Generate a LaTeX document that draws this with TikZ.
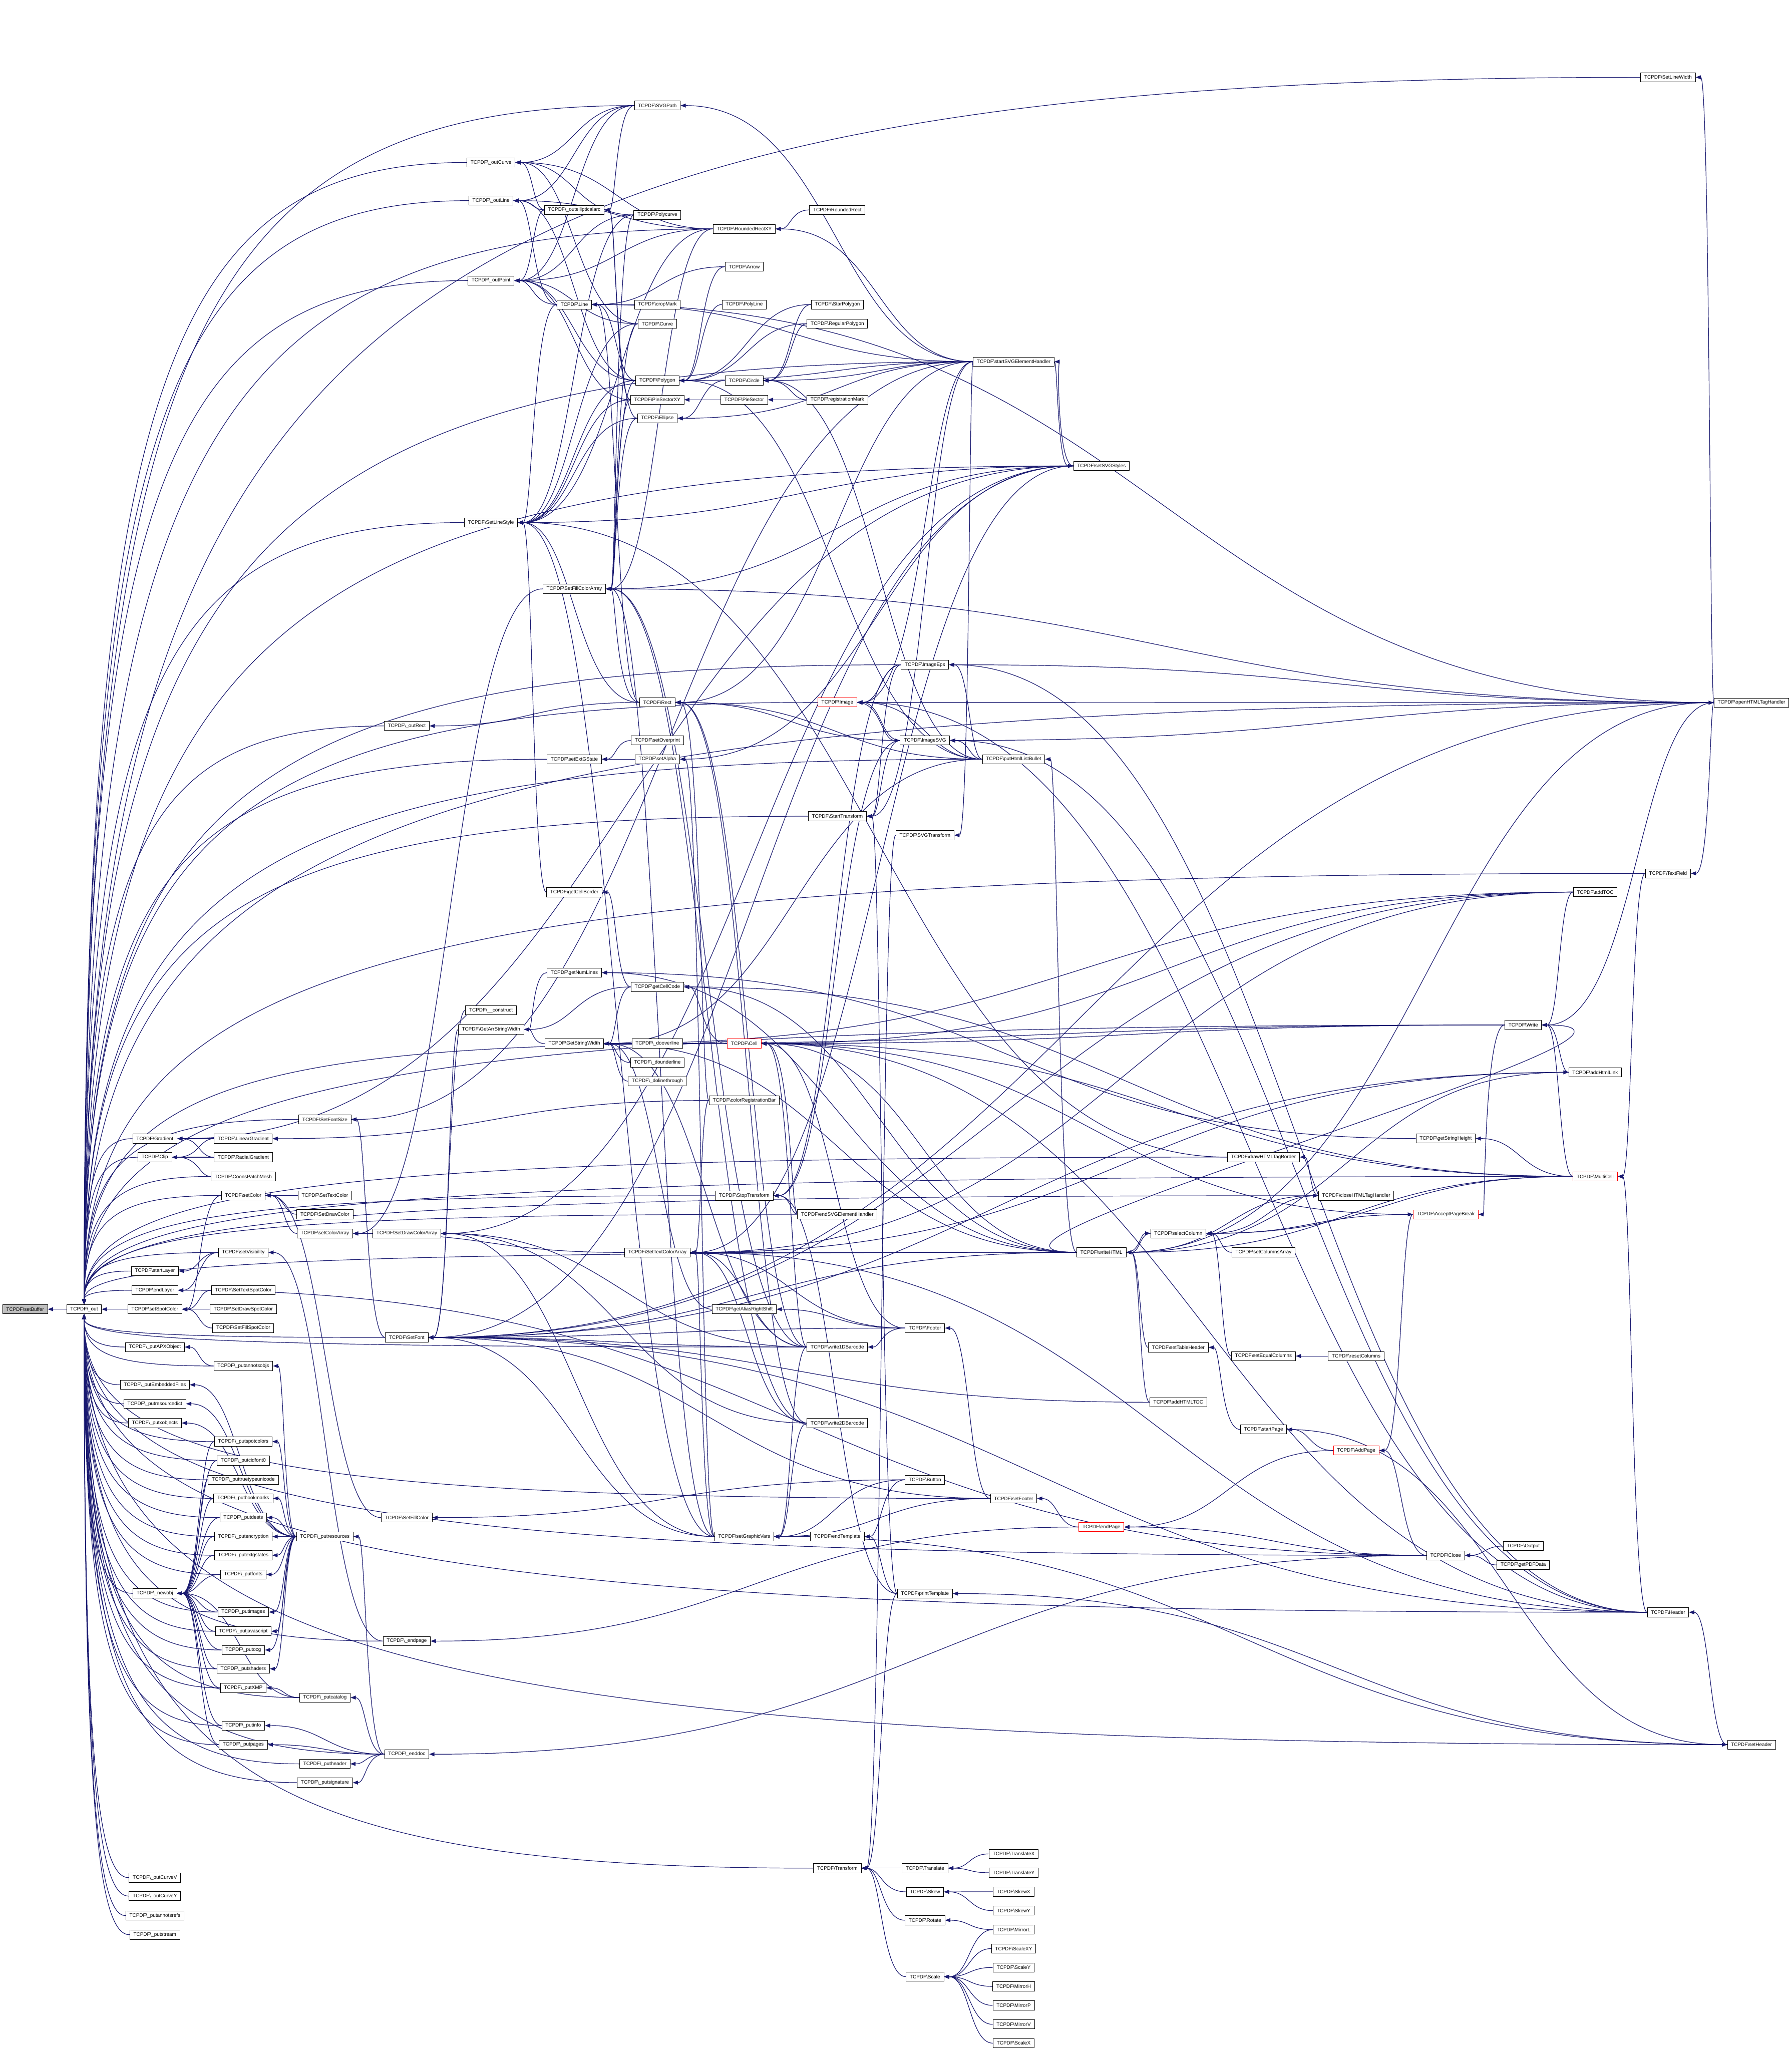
\documentclass[tikz,border=0pt]{standalone}
\usepackage{fontspec}
\setmainfont{Liberation Sans}
\usetikzlibrary{arrows.meta, calc, backgrounds}

\definecolor{edgeblue}{HTML}{191970}
\definecolor{rootgray}{HTML}{BFBFBF}
\newcommand\tcpdf{TCPDF\textbackslash{}}

\tikzset{
  fn/.style={draw=black, fill=white, line width=1pt, inner xsep=2.8mm, inner ysep=0pt,
    minimum height=7mm, font=\fontsize{10.8pt}{13pt}\selectfont},
  redfn/.style={fn, draw=red},
  rootfn/.style={fn, fill=rootgray},
  wire/.style={draw=edgeblue, line width=1.3pt, -{Triangle[length=4mm,width=3mm]}},
  call/.style={wire, to path={let \p1=(\tikztostart), \p2=(\tikztotarget),
    \n1={max(abs(\x1-\x2)/2,22pt)} in
    .. controls +(-\n1,0pt) and +(\n1,0pt) .. (\tikztotarget)}},
  backcall/.style={wire, to path={let \p1=(\tikztostart), \p2=(\tikztotarget),
    \n1={max(abs(\x1-\x2)/2,22pt)} in
    .. controls +(\n1,0pt) and +(-\n1,0pt) .. (\tikztotarget)}},
  fanup/.style={wire, to path={let \p1=(\tikztostart), \p2=(\tikztotarget),
    \n1={max(abs(\x1-\x2)*0.8,20pt)}, \n2={max(abs(\y1-\y2)*0.8,20pt)} in
    .. controls +(-\n1,0pt) and +(0pt,\n2) .. (\tikztotarget)}},
  fandown/.style={wire, to path={let \p1=(\tikztostart), \p2=(\tikztotarget),
    \n1={max(abs(\x1-\x2)*0.8,20pt)}, \n2={max(abs(\y1-\y2)*0.8,20pt)} in
    .. controls +(-\n1,0pt) and +(0pt,-\n2) .. (\tikztotarget)}},
}

\begin{document}
\begin{tikzpicture}[x=1mm, y=-1mm]
\useasboundingbox (0,0) rectangle (1370,1568);

% root and the output function
\node[rootfn] (setBuffer) at (19.2,1000.9) {\tcpdf setBuffer};
\node[fn] (out) at (64.3,1000.9) {\tcpdf\_out};

% rank 2
\foreach \nm/\yy/\lbl in {Gradient/870.5/Gradient, Clip/884.7/Clip, startLayer/971.7/startLayer,
    endLayer/986.4/endLayer, setSpotColor/1000.9/setSpotColor, putAPXObject/1029.8/\_putAPXObject,
    putEmbeddedFiles/1058.7/\_putEmbeddedFiles, putresourcedict/1073.2/\_putresourcedict,
    putxobjects/1087.9/\_putxobjects, newobj/1218.1/\_newobj, outCurveV/1435.5/\_outCurveV,
    outCurveY/1449.6/\_outCurveY, putannotsrefs/1464.5/\_putannotsrefs, putstream/1479.1/\_putstream}
  \node[fn] (\nm) at (118.4,\yy) {\tcpdf\lbl};

% rank 3
\foreach \nm/\yy/\lbl in {LinearGradient/870.5/LinearGradient, RadialGradient/884.7/RadialGradient,
    CoonsPatchMesh/899.4/CoonsPatchMesh, setColor/913.9/setColor, setVisibility/957.5/setVisibility,
    SetTextSpotColor/986.4/SetTextSpotColor, SetDrawSpotColor/1000.9/SetDrawSpotColor,
    SetFillSpotColor/1015.3/SetFillSpotColor, putannotsobjs/1044.3/\_putannotsobjs,
    putspotcolors/1102.1/\_putspotcolors, putcidfont/1116.6/\_putcidfont0,
    puttruetypeunicode/1131.3/\_puttruetypeunicode, putbookmarks/1145.5/\_putbookmarks,
    putdests/1160.2/\_putdests, putencryption/1174.7/\_putencryption, putextgstates/1189.0/\_putextgstates,
    putfonts/1203.7/\_putfonts, putimages/1232.4/\_putimages, putjavascript/1247.1/\_putjavascript,
    putocg/1261.4/\_putocg, putshaders/1275.8/\_putshaders, putXMP/1290.4/\_putXMP,
    putinfo/1319.2/\_putinfo, putpages/1333.8/\_putpages}
  \node[fn] (\nm) at (186.0,\yy) {\tcpdf\lbl};

% rank 4
\foreach \nm/\yy/\lbl in {SetFontSize/855.8/SetFontSize, SetTextColor/913.9/SetTextColor,
    SetDrawColor/928.3/SetDrawColor, setColorArray/943.0/setColorArray, putresources/1174.7/\_putresources,
    putcatalog/1297.8/\_putcatalog, putheader/1348.5/\_putheader, putsignature/1362.8/\_putsignature}
  \node[fn] (\nm) at (248.4,\yy) {\tcpdf\lbl};

% rank 5
\foreach \nm/\yy/\lbl in {outRect/555.0/\_outRect, SetDrawColorArray/943.0/SetDrawColorArray,
    SetFont/1022.5/SetFont, SetFillColor/1160.2/SetFillColor, endpageu/1254.6/\_endpage,
    enddoc/1341.1/\_enddoc}
  \node[fn] (\nm) at (311.0,\yy) {\tcpdf\lbl};

% rank 6
\foreach \nm/\yy/\lbl in {outCurve/124.2/\_outCurve, outLine/153.4/\_outLine, outPoint/214.5/\_outPoint,
    SetLineStyle/399.5/SetLineStyle, construct/772.4/\_\_construct, GetArrStringWidth/787.0/GetArrStringWidth}
  \node[fn] (\nm) at (375.4,\yy) {\tcpdf\lbl};

% rank 7
\foreach \nm/\yy/\lbl in {outellipticalarc/160.5/\_outellipticalarc, Line/232.8/Line,
    SetFillColorArray/450.2/SetFillColorArray, setExtGState/580.4/setExtGState,
    getCellBorder/682.1/getCellBorder, getNumLines/743.6/getNumLines, GetStringWidth/797.8/GetStringWidth}
  \node[fn] (\nm) at (439.1,\yy) {\tcpdf\lbl};

% rank 8
\foreach \nm/\yy/\lbl in {SVGPath/80.7/SVGPath, Polycurve/164.3/Polycurve, cropMark/232.8/cropMark,
    Curve/247.5/Curve, Polygon/290.9/Polygon, PieSectorXY/305.6/PieSectorXY, Ellipse/319.8/Ellipse,
    Rect/537.0/Rect, setOverprint/566.1/setOverprint, setAlpha/580.4/setAlpha,
    getCellCode/754.5/getCellCode, dooverline/797.8/\_dooverline, dounderline/812.3/\_dounderline,
    dolinethrough/826.6/\_dolinethrough, SetTextColorArray/957.5/SetTextColorArray}
  \node[fn] (\nm) at (502.6,\yy) {\tcpdf\lbl};

% rank 9
\foreach \nm/\yy/\lbl in {RoundedRectXY/175.0/RoundedRectXY, Arrow/203.9/Arrow, PolyLine/232.8/PolyLine,
    Circle/290.9/Circle, PieSector/305.6/PieSector, colorRegistrationBar/841.3/colorRegistrationBar,
    StopTransform/914.1/StopTransform, getAliasRightShift/1000.9/getAliasRightShift,
    setGraphicVars/1174.7/setGraphicVars}
  \node[fn] (\nm) at (569.0,\yy) {\tcpdf\lbl};
\node[redfn] (Cell) at (569.0,797.8) {\tcpdf Cell};

% rank 10
\foreach \nm/\yy/\lbl in {RoundedRect/160.5/RoundedRect, StarPolygon/232.8/StarPolygon,
    RegularPolygon/247.5/RegularPolygon, registrationMark/305.6/registrationMark,
    StartTransform/624.0/StartTransform, endSVGElementHandler/928.3/endSVGElementHandler,
    write1DBarcode/1029.8/write1DBarcode, write2DBarcode/1087.9/write2DBarcode,
    endTemplate/1174.7/endTemplate, Transform/1428.2/Transform}
  \node[fn] (\nm) at (640.2,\yy) {\tcpdf\lbl};
\node[redfn] (Image) at (640.2,537.0) {\tcpdf Image};

% rank 11
\foreach \nm/\yy/\lbl in {ImageEps/508.2/ImageEps, ImageSVG/566.1/ImageSVG, SVGTransform/638.5/SVGTransform,
    Footer/1015.3/Footer, Button/1131.3/Button, printTemplate/1218.3/printTemplate,
    Translate/1428.2/Translate, Skew/1446.3/Skew, Rotate/1468.0/Rotate, Scale/1511.2/Scale}
  \node[fn] (\nm) at (707.2,\yy) {\tcpdf\lbl};

% rank 12
\foreach \nm/\yy/\lbl in {startSVGElementHandler/276.5/startSVGElementHandler,
    putHtmlListBullet/580.4/putHtmlListBullet, setFooter/1145.6/setFooter,
    TranslateX/1417.3/TranslateX, TranslateY/1431.7/TranslateY, SkewX/1446.2/SkewX, SkewY/1460.7/SkewY,
    MirrorL/1475.2/MirrorL, ScaleXY/1489.7/ScaleXY, ScaleY/1504.1/ScaleY, MirrorH/1518.6/MirrorH,
    MirrorP/1533.1/MirrorP, MirrorV/1547.6/MirrorV, ScaleX/1562.0/ScaleX}
  \node[fn] (\nm) at (775.0,\yy) {\tcpdf\lbl};

% ranks 13 to 20
\node[fn] (setSVGStyles) at (842.1,356.2) {\tcpdf setSVGStyles};
\node[fn] (writeHTML) at (842.1,957.4) {\tcpdf writeHTML};
\node[redfn] (endPage) at (842.1,1167.4) {\tcpdf endPage};
\node[fn] (selectColumn) at (900.9,942.9) {\tcpdf selectColumn};
\node[fn] (setTableHeader) at (900.9,1030.1) {\tcpdf setTableHeader};
\node[fn] (addHTMLTOC) at (900.9,1072.0) {\tcpdf addHTMLTOC};
\node[fn] (drawHTMLTagBorder) at (966.0,884.6) {\tcpdf drawHTMLTagBorder};
\node[fn] (setColumnsArray) at (966.0,957.4) {\tcpdf setColumnsArray};
\node[fn] (setEqualColumns) at (966.0,1036.7) {\tcpdf setEqualColumns};
\node[fn] (startPage) at (966.0,1092.8) {\tcpdf startPage};
\node[fn] (closeHTMLTagHandler) at (1036.9,914.1) {\tcpdf closeHTMLTagHandler};
\node[fn] (resetColumns) at (1036.9,1036.7) {\tcpdf resetColumns};
\node[redfn] (AddPage) at (1036.9,1108.9) {\tcpdf AddPage};
\node[fn] (getStringHeight) at (1105.3,870.4) {\tcpdf getStringHeight};
\node[redfn] (AcceptPageBreak) at (1105.3,928.4) {\tcpdf AcceptPageBreak};
\node[fn] (Close) at (1105.3,1189.1) {\tcpdf Close};
\node[fn] (Write) at (1164.6,783.6) {\tcpdf Write};
\node[fn] (Output) at (1164.6,1182.0) {\tcpdf Output};
\node[fn] (getPDFData) at (1164.6,1196.4) {\tcpdf getPDFData};
\node[fn] (addTOC) at (1219.6,682.0) {\tcpdf addTOC};
\node[fn] (addHtmlLink) at (1219.6,819.8) {\tcpdf addHtmlLink};
\node[redfn] (MultiCell) at (1219.6,899.4) {\tcpdf MultiCell};
\node[fn] (SetLineWidth) at (1275.3,59.1) {\tcpdf SetLineWidth};
\node[fn] (TextField) at (1275.3,667.7) {\tcpdf TextField};
\node[fn] (Header) at (1275.3,1232.6) {\tcpdf Header};
\node[fn] (openHTMLTagHandler) at (1339.1,537.2) {\tcpdf openHTMLTagHandler};
\node[fn] (setHeader) at (1339.1,1333.8) {\tcpdf setHeader};

\begin{pgfonlayer}{background}
\fill[white] (0,0) rectangle (1370,1568);

% calls into _out
\draw[call] (out) to (setBuffer);
\draw[call] (setSpotColor) to (out);
\foreach \s in {SetLineWidth, outCurve, outLine, outPoint, SVGPath, SetLineStyle, outRect, setExtGState,
    StartTransform, StopTransform, SetFontSize, Gradient, Clip, CoonsPatchMesh, setColor, setVisibility,
    startLayer, endLayer, Image, ImageEps, openHTMLTagHandler, startSVGElementHandler,
    endSVGElementHandler, putHtmlListBullet, Cell, writeHTML, closeHTMLTagHandler, Write, MultiCell,
    RoundedRectXY, drawHTMLTagBorder, setSVGStyles, TextField}
  \draw[fanup] (\s) to (out);
\foreach \s in {putAPXObject, putannotsobjs, putEmbeddedFiles, putresourcedict, putxobjects, putspotcolors,
    putcidfont, puttruetypeunicode, putbookmarks, putdests, putencryption, putextgstates, putfonts, newobj,
    putimages, putjavascript, putocg, putshaders, putXMP, putcatalog, putinfo, putpages, putheader,
    putsignature, enddoc, outCurveV, outCurveY, putannotsrefs, putstream, SetFont, endpageu, Transform,
    setHeader, Close, setFooter, write1DBarcode, Header}
  \draw[fandown] (\s) to (out);

% gradients, colours, layers, fonts
\foreach \s/\t in {LinearGradient/Gradient, RadialGradient/Gradient, LinearGradient/Clip, RadialGradient/Clip,
    CoonsPatchMesh/Clip, setSVGStyles/Gradient, colorRegistrationBar/LinearGradient,
    SetTextColor/setColor, SetDrawColor/setColor, SetFillColor/setColor, setColorArray/setColor,
    setColor/setSpotColor, SetTextSpotColor/setSpotColor, SetDrawSpotColor/setSpotColor,
    SetFillSpotColor/setSpotColor, SetDrawColorArray/setColorArray, SetFillColorArray/setColorArray,
    SetTextColorArray/setColorArray, setVisibility/startLayer, setVisibility/endLayer,
    endpageu/setVisibility, Close/endLayer, SetFont/SetFontSize, startSVGElementHandler/SetFontSize,
    GetArrStringWidth/SetFont, construct/SetFont}
  \draw[call] (\s) to (\t);

% document objects
\foreach \s/\t in {putannotsobjs/putAPXObject, putresources/putEmbeddedFiles, putresources/putresourcedict,
    putresources/putxobjects, putresources/putannotsobjs, putresources/putspotcolors,
    putresources/putbookmarks, putresources/putdests, putresources/putencryption,
    putresources/putextgstates, putresources/putfonts, putresources/putimages,
    putresources/putjavascript, putresources/putocg, putresources/putshaders,
    putspotcolors/newobj, putcidfont/newobj, puttruetypeunicode/newobj, putbookmarks/newobj,
    putdests/newobj, putencryption/newobj, putextgstates/newobj, putfonts/newobj, putimages/newobj,
    putjavascript/newobj, putocg/newobj, putshaders/newobj, putXMP/newobj, putinfo/newobj,
    putpages/newobj, putcatalog/newobj, putcatalog/putXMP, enddoc/putcatalog, enddoc/putinfo,
    enddoc/putpages, enddoc/putheader, enddoc/putsignature, enddoc/putresources, Close/enddoc,
    endPage/endpageu}
  \draw[call] (\s) to (\t);

% drawing primitives
\foreach \s/\t in {SVGPath/outCurve, SVGPath/outLine, SVGPath/outPoint, SVGPath/outellipticalarc,
    outellipticalarc/outCurve, outellipticalarc/outLine, outellipticalarc/outPoint,
    Polycurve/outCurve, Polycurve/outPoint, Polycurve/SetLineStyle, Polycurve/SetFillColorArray,
    Curve/outCurve, Curve/outPoint, Curve/SetLineStyle, Curve/SetFillColorArray,
    RoundedRectXY/outCurve, RoundedRectXY/outLine, RoundedRectXY/outPoint, RoundedRectXY/SetLineStyle,
    RoundedRectXY/SetFillColorArray, Line/outLine, Line/outPoint, Line/SetLineStyle,
    cropMark/Line, Arrow/Line, Arrow/Polygon, Polygon/outPoint, Polygon/outLine, Polygon/Line,
    Polygon/SetLineStyle, Polygon/SetFillColorArray, PolyLine/Polygon, StarPolygon/Polygon,
    StarPolygon/Circle, RegularPolygon/Polygon, RegularPolygon/Circle, Circle/Ellipse,
    registrationMark/Circle, registrationMark/PieSector, PieSector/PieSectorXY,
    PieSectorXY/outellipticalarc, PieSectorXY/outPoint, PieSectorXY/SetLineStyle,
    PieSectorXY/SetFillColorArray, Ellipse/outellipticalarc, Ellipse/SetLineStyle,
    Ellipse/SetFillColorArray, RoundedRect/RoundedRectXY, Rect/outRect, Rect/Line, Rect/SetLineStyle,
    Rect/SetFillColorArray, setAlpha/setExtGState, setOverprint/setExtGState}
  \draw[call] (\s) to (\t);

% svg, images, transformations
\foreach \s/\t in {startSVGElementHandler/SVGPath, startSVGElementHandler/RoundedRectXY,
    startSVGElementHandler/Ellipse, startSVGElementHandler/Circle, startSVGElementHandler/Polygon,
    startSVGElementHandler/Line, startSVGElementHandler/Rect, startSVGElementHandler/Image,
    startSVGElementHandler/StartTransform, startSVGElementHandler/SVGTransform,
    setSVGStyles/SetLineStyle, setSVGStyles/SetFillColorArray, setSVGStyles/SetDrawColorArray,
    setSVGStyles/SetTextColorArray, setSVGStyles/setAlpha, setSVGStyles/SetFont,
    setSVGStyles/startSVGElementHandler, endSVGElementHandler/StopTransform, endSVGElementHandler/Cell,
    ImageEps/Image, ImageSVG/Image, ImageEps/StartTransform, ImageEps/StopTransform,
    ImageSVG/StartTransform, ImageSVG/StopTransform, ImageSVG/Rect,
    putHtmlListBullet/Image, putHtmlListBullet/ImageEps, putHtmlListBullet/ImageSVG,
    putHtmlListBullet/Circle, putHtmlListBullet/Rect, putHtmlListBullet/Polygon,
    putHtmlListBullet/GetStringWidth, printTemplate/Transform, printTemplate/StartTransform,
    printTemplate/StopTransform, printTemplate/endTemplate, SVGTransform/Transform,
    Translate/Transform, Skew/Transform, Rotate/Transform, Scale/Transform,
    TranslateX/Translate, TranslateY/Translate, SkewX/Skew, SkewY/Skew, MirrorL/Rotate,
    MirrorL/Scale, ScaleXY/Scale, ScaleY/Scale, MirrorH/Scale, MirrorP/Scale, MirrorV/Scale, ScaleX/Scale,
    setGraphicVars/SetLineStyle, setGraphicVars/SetFillColorArray, setGraphicVars/SetDrawColorArray,
    setGraphicVars/SetTextColorArray, setGraphicVars/setAlpha, setGraphicVars/SetFont,
    endTemplate/setGraphicVars, Button/endTemplate, Button/SetFillColor, Button/setGraphicVars}
  \draw[call] (\s) to (\t);

% text, cells and pages
\foreach \s/\t in {Cell/getCellCode, getCellCode/GetStringWidth, getCellCode/GetArrStringWidth,
    getCellCode/getCellBorder, dooverline/GetStringWidth, dounderline/GetStringWidth,
    dolinethrough/GetStringWidth, getCellBorder/SetLineStyle, getNumLines/GetArrStringWidth,
    GetStringWidth/GetArrStringWidth, getStringHeight/getNumLines, writeHTML/getNumLines,
    getAliasRightShift/GetStringWidth, Footer/getAliasRightShift, Footer/SetTextColorArray,
    Footer/write1DBarcode, Footer/Cell, Footer/SetFont, write1DBarcode/Rect, write1DBarcode/Cell,
    write1DBarcode/SetFont, write1DBarcode/SetTextColorArray, write1DBarcode/setGraphicVars,
    write1DBarcode/SetDrawColorArray, write1DBarcode/SetFillColorArray, write1DBarcode/GetStringWidth,
    write2DBarcode/Rect, write2DBarcode/SetFillColorArray, write2DBarcode/SetDrawColorArray,
    write2DBarcode/setGraphicVars, write2DBarcode/SetTextColorArray, colorRegistrationBar/Rect,
    colorRegistrationBar/SetTextColorArray, Write/Cell, Write/GetStringWidth, Write/AcceptPageBreak,
    addHtmlLink/Write, addHtmlLink/SetTextColorArray, addHtmlLink/SetFont, MultiCell/Write,
    MultiCell/getStringHeight, MultiCell/Cell, MultiCell/writeHTML, MultiCell/selectColumn,
    MultiCell/getCellCode, Header/MultiCell, Header/Image, Header/Cell, Header/SetFont,
    Header/SetTextColorArray, Header/ImageEps, Header/ImageSVG, setHeader/Header,
    setHeader/printTemplate, setHeader/setGraphicVars, startPage/setTableHeader, AddPage/startPage,
    AddPage/endPage, AcceptPageBreak/AddPage, AcceptPageBreak/selectColumn, Close/AddPage,
    Close/endPage, Output/Close, getPDFData/Close, endPage/setFooter, setFooter/Footer,
    setFooter/setGraphicVars, setFooter/SetFont, writeHTML/Write, writeHTML/putHtmlListBullet,
    writeHTML/SetFont, writeHTML/SetTextColorArray, writeHTML/GetStringWidth, writeHTML/getCellCode,
    writeHTML/Cell, selectColumn/writeHTML, setColumnsArray/selectColumn, setEqualColumns/selectColumn,
    closeHTMLTagHandler/selectColumn, resetColumns/setEqualColumns, setTableHeader/writeHTML,
    addHTMLTOC/writeHTML, addHTMLTOC/SetFont, closeHTMLTagHandler/drawHTMLTagBorder,
    drawHTMLTagBorder/SetLineStyle, openHTMLTagHandler/SetLineWidth, openHTMLTagHandler/Image,
    openHTMLTagHandler/ImageEps, openHTMLTagHandler/ImageSVG, openHTMLTagHandler/TextField,
    openHTMLTagHandler/Line, openHTMLTagHandler/Write, openHTMLTagHandler/SetFont,
    openHTMLTagHandler/SetFillColorArray, TextField/MultiCell, addTOC/Cell, addTOC/SetFont,
    addTOC/Write, addTOC/GetStringWidth, addTOC/SetTextColorArray}
  \draw[call] (\s) to (\t);

% callees standing to the right of their caller
\foreach \s/\t in {startSVGElementHandler/setSVGStyles, Image/ImageSVG, startPage/setHeader,
    writeHTML/openHTMLTagHandler, writeHTML/closeHTMLTagHandler, writeHTML/addHtmlLink,
    writeHTML/selectColumn, Cell/AcceptPageBreak}
  \draw[backcall] (\s) to (\t);
\end{pgfonlayer}
\end{tikzpicture}
\end{document}
